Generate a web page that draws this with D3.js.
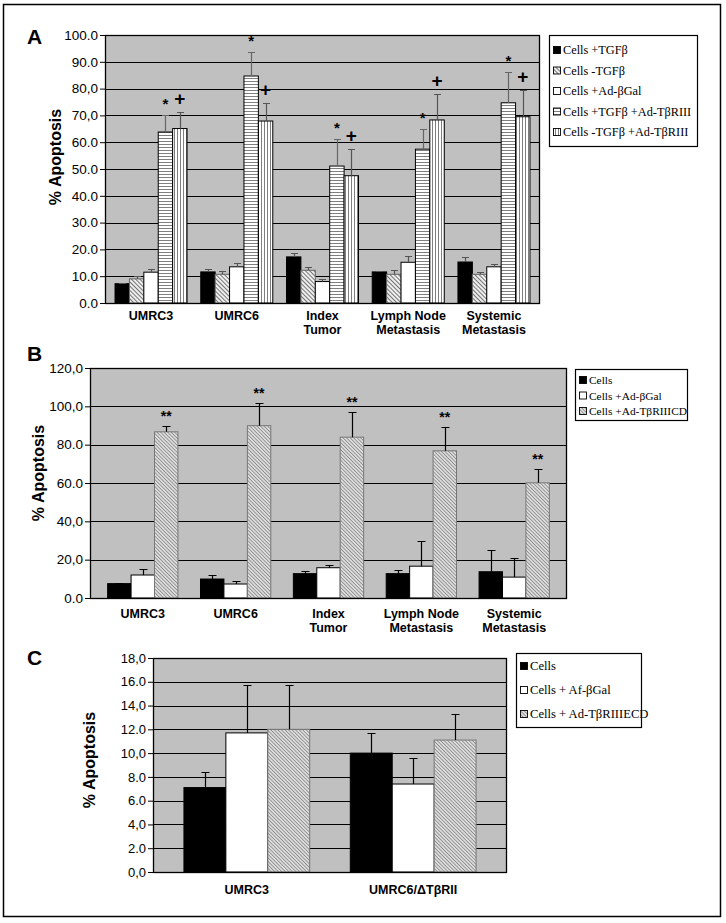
<!DOCTYPE html>
<html><head><meta charset="utf-8">
<script src="https://cdn.jsdelivr.net/npm/d3@7"></script>
<style>body{margin:0;background:#fff}</style>
</head><body>
<svg id="c" width="726" height="923" xmlns="http://www.w3.org/2000/svg"></svg>
<script>
// ---------- DATA ----------
// Panel A
const catsA = ["UMRC3", "UMRC6", "Index\nTumor", "Lymph Node\nMetastasis", "Systemic\nMetastasis"];
const seriesA = ["Cells +TGFβ", "Cells -TGFβ", "Cells +Ad-βGal", "Cells +TGFβ +Ad-TβRIII", "Cells -TGFβ +Ad-TβRIII"];
const a_tgf      = [7.2, 11.6, 17.2, 11.6, 15.3];
const a_tgf_err  = [0.3, 1.0, 1.4, 0.3, 2.0];
const a_notgf    = [9.0, 10.7, 12.2, 10.7, 10.7];
const a_notgf_err= [1.0, 1.2, 1.3, 1.6, 1.0];
const a_gal      = [11.5, 13.5, 8.0, 15.2, 13.5];
const a_gal_err  = [1.1, 1.3, 1.0, 2.2, 0.9];
const a_tgfR3    = [63.8, 84.7, 51.1, 57.4, 74.7];
const a_tgfR3_err= [6.2, 9.1, 10.0, 7.4, 11.6];
const a_noR3     = [65.1, 67.9, 47.5, 68.3, 69.5];
const a_noR3_err = [6.3, 6.9, 9.9, 9.5, 9.8];
const ticksA = [0, 10, 20, 30, 40, 50, 60, 70, 80, 90, 100];
const tickLabelsA = ["0.0", "10.0", "20.0", "30.0", "40.0", "50.0", "60.0", "70,0", "80,0", "90.0", "100.0"];

// Panel B
const catsB = ["UMRC3", "UMRC6", "Index\nTumor", "Lymph Node\nMetastasis", "Systemic\nMetastasis"];
const seriesB = ["Cells", "Cells +Ad-βGal", "Cells +Ad-TβRIIICD"];
const b_cells     = [7.5, 9.9, 12.7, 12.7, 13.7];
const b_cells_err = [0.5, 2.1, 1.3, 1.9, 11.4];
const b_gal       = [12.0, 7.3, 15.8, 16.6, 10.9];
const b_gal_err   = [2.9, 1.7, 1.4, 13.2, 9.9];
const b_cd        = [86.7, 89.9, 83.9, 76.8, 60.1];
const b_cd_err    = [3.2, 12.0, 13.3, 12.5, 7.3];
const ticksB = [0, 20, 40, 60, 80, 100, 120];
const tickLabelsB = ["0.0", "20,0", "40,0", "60.0", "80.0", "100,0", "120,0"];

// Panel C
const catsC = ["UMRC3", "UMRC6/ΔTβRII"];
const seriesC = ["Cells", "Cells + Af-βGal", "Cells + Ad-TβRIIIECD"];
const c_cells     = [7.1, 10.0];
const c_cells_err = [1.3, 1.7];
const c_gal       = [11.7, 7.4];
const c_gal_err   = [4.0, 2.2];
const c_ecd       = [12.0, 11.1];
const c_ecd_err   = [3.7, 2.2];
const ticksC = [0, 2, 4, 6, 8, 10, 12, 14, 16, 18];
const tickLabelsC = ["0,0", "2.0", "4,0", "6.0", "8.0", "10,0", "12.0", "14,0", "16.0", "18,0"];

// ---------- DRAWING ----------
const svg = d3.select("#c");
const SANS = "'Liberation Sans', Arial, sans-serif";
const SERIF = "'Liberation Serif', 'Times New Roman', serif";

svg.append("rect").attr("x", 3.5).attr("y", 4.5).attr("width", 717).attr("height", 912)
  .attr("fill", "#fff").attr("stroke", "#000").attr("stroke-width", 1.5);

const defs = svg.append("defs");
function linePattern(id, size, angle, color, sw, bg) {
  const p = defs.append("pattern").attr("id", id).attr("patternUnits", "userSpaceOnUse")
    .attr("width", size).attr("height", size).attr("patternTransform", `rotate(${angle})`);
  p.append("rect").attr("width", size).attr("height", size).attr("fill", bg);
  p.append("line").attr("x1", 0).attr("y1", 0).attr("x2", 0).attr("y2", size)
    .attr("stroke", color).attr("stroke-width", sw);
  return `url(#${id})`;
}
const hatchA = linePattern("hatchA", 3, -45, "#222", 1.2, "#eee");
const hatchBC = linePattern("hatchBC", 2.5, -45, "#444", 0.9, "#ddd");
const horiz = linePattern("horiz", 3, 90, "#000", 1, "#fff");
const vert = linePattern("vert", 3, 0, "#000", 1, "#fff");

function panel(o) {
  const g = svg.append("g");
  const x = d3.scaleBand().domain(o.cats).range([o.x0, o.x1]).paddingInner(o.pi).paddingOuter(o.po);
  const xs = d3.scaleBand().domain(d3.range(o.series.length)).range([0, x.bandwidth()]);
  const y = d3.scaleLinear().domain([0, o.max]).range([o.y1, o.y0]);

  g.append("rect").attr("x", o.x0).attr("y", o.y0).attr("width", o.x1 - o.x0).attr("height", o.y1 - o.y0)
    .attr("fill", "#c0c0c0");
  g.selectAll(".grid").data(o.ticks).join("line")
    .attr("x1", o.x0).attr("x2", o.x1).attr("y1", d => Math.round(y(d)) + 0.5).attr("y2", d => Math.round(y(d)) + 0.5)
    .attr("stroke", "#000").attr("stroke-width", 1);

  o.series.forEach((s, si) => {
    const bars = o.cats.map((c, ci) => ({ c, v: s.vals[ci], e: s.errs[ci] }));
    g.selectAll(null).data(bars).join("rect")
      .attr("x", d => x(d.c) + xs(si))
      .attr("y", d => y(d.v))
      .attr("width", xs.bandwidth())
      .attr("height", d => y(0) - y(d.v))
      .attr("fill", s.fill).attr("stroke", s.stroke).attr("stroke-width", 1);
    g.selectAll(null).data(bars).join("path")
      .attr("d", d => {
        const cx = Math.round(x(d.c) + xs(si) + xs.bandwidth() / 2) + 0.5;
        const yt = Math.round(y(d.v + d.e)) + 0.5;
        return `M${cx},${y(d.v)}V${yt}M${cx - o.cap},${yt}H${cx + o.cap}`;
      })
      .attr("fill", "none").attr("stroke", s.errColor).attr("stroke-width", 1.2);
    if (s.mark) {
      g.selectAll(null).data(bars).join("text")
        .attr("x", d => x(d.c) + xs(si) + xs.bandwidth() / 2)
        .attr("y", d => y(d.v + d.e) - s.markOff)
        .attr("text-anchor", "middle")
        .attr("font-family", SANS).attr("font-weight", "bold").attr("font-size", s.markSize)
        .text(s.mark);
    }
  });

  g.append("rect").attr("x", o.x0 + 0.5).attr("y", o.y0 + 0.5).attr("width", o.x1 - o.x0 - 1).attr("height", o.y1 - o.y0)
    .attr("fill", "none").attr("stroke", "#000").attr("stroke-width", 1.3);

  const ax = g.append("g").attr("transform", `translate(${o.x0},0)`)
    .call(d3.axisLeft(y).tickValues(o.ticks).tickFormat((d, i) => o.tickLabels[i]).tickSize(5).tickSizeOuter(0).tickPadding(2));
  ax.select(".domain").remove();
  ax.selectAll("text").attr("font-family", SANS).attr("font-size", o.tickFont).attr("fill", "#000");
  ax.selectAll("line").attr("stroke", "#000");

  o.cats.forEach(c => {
    const t = g.append("text").attr("x", x(c) + x.bandwidth() / 2).attr("y", o.labY)
      .attr("text-anchor", "middle").attr("font-family", SANS).attr("font-weight", "bold").attr("font-size", 12.5);
    c.split("\n").forEach((line, li) => t.append("tspan").attr("x", x(c) + x.bandwidth() / 2).attr("dy", li ? 13.5 : 0).text(line));
  });

  g.append("text").attr("transform", `translate(${o.titleX},${o.titleY}) rotate(-90)`)
    .attr("text-anchor", "middle").attr("dominant-baseline", "central")
    .attr("font-family", SANS).attr("font-weight", "bold").attr("font-size", 16).text("% Apoptosis");
  g.append("text").attr("x", 27).attr("y", o.letterY).attr("font-family", SANS).attr("font-weight", "bold")
    .attr("font-size", 21).text(o.letter);

  // legend
  const L = o.legend;
  g.append("rect").attr("x", L.x + 0.5).attr("y", L.y + 0.5).attr("width", L.w).attr("height", L.h)
    .attr("fill", "#fff").attr("stroke", "#000").attr("stroke-width", 1.2);
  o.series.forEach((s, si) => {
    const cy = L.y + L.first + L.gap * si;
    g.append("rect").attr("x", L.x + 4.5).attr("y", cy - 3.5).attr("width", 7).attr("height", 7)
      .attr("fill", s.fill).attr("stroke", "#000").attr("stroke-width", 0.9);
    g.append("text").attr("x", L.x + 14).attr("y", cy).attr("dominant-baseline", "central")
      .attr("font-family", SERIF).attr("font-size", L.font).text(s.name);
  });
}

panel({
  letter: "A", letterY: 44,
  cats: catsA, x0: 105, x1: 540, y0: 35, y1: 303, pi: 0.16, po: 0.117, max: 100,
  ticks: ticksA, tickLabels: tickLabelsA, tickFont: 13.5, cap: 3.5, labY: 320, titleX: 55, titleY: 157,
  series: [
    { name: seriesA[0], vals: a_tgf, errs: a_tgf_err, fill: "#000", stroke: "#000", errColor: "#555" },
    { name: seriesA[1], vals: a_notgf, errs: a_notgf_err, fill: hatchA, stroke: "#666", errColor: "#555" },
    { name: seriesA[2], vals: a_gal, errs: a_gal_err, fill: "#fff", stroke: "#000", errColor: "#555" },
    { name: seriesA[3], vals: a_tgfR3, errs: a_tgfR3_err, fill: horiz, stroke: "#000", errColor: "#666", mark: "*", markSize: 15, markOff: 6 },
    { name: seriesA[4], vals: a_noR3, errs: a_noR3_err, fill: vert, stroke: "#000", errColor: "#555", mark: "+", markSize: 19, markOff: 7 }
  ],
  legend: { x: 549, y: 35, w: 148, h: 111, first: 15, gap: 20.5, font: 12.3 }
});

panel({
  letter: "B", letterY: 361,
  cats: catsB, x0: 90, x1: 567, y0: 368, y1: 598, pi: 0.243, po: 0.19, max: 120,
  ticks: ticksB, tickLabels: tickLabelsB, tickFont: 13.5, cap: 4, labY: 618, titleX: 38, titleY: 473,
  series: [
    { name: seriesB[0], vals: b_cells, errs: b_cells_err, fill: "#000", stroke: "#000", errColor: "#000" },
    { name: seriesB[1], vals: b_gal, errs: b_gal_err, fill: "#fff", stroke: "#000", errColor: "#000" },
    { name: seriesB[2], vals: b_cd, errs: b_cd_err, fill: hatchBC, stroke: "#777", errColor: "#000", mark: "**", markSize: 14, markOff: 5 }
  ],
  legend: { x: 575, y: 369, w: 112, h: 51, first: 11, gap: 15.5, font: 11.4 }
});

panel({
  letter: "C", letterY: 665,
  cats: catsC, x0: 153, x1: 507, y0: 658, y1: 872, pi: 0.244, po: 0.186, max: 18,
  ticks: ticksC, tickLabels: tickLabelsC, tickFont: 13, cap: 4, labY: 894, titleX: 89, titleY: 760,
  series: [
    { name: seriesC[0], vals: c_cells, errs: c_cells_err, fill: "#000", stroke: "#000", errColor: "#000" },
    { name: seriesC[1], vals: c_gal, errs: c_gal_err, fill: "#fff", stroke: "#000", errColor: "#000" },
    { name: seriesC[2], vals: c_ecd, errs: c_ecd_err, fill: hatchBC, stroke: "#777", errColor: "#000" }
  ],
  legend: { x: 516, y: 653, w: 125, h: 74, first: 13, gap: 24, font: 12.6 }
});
</script>
</body></html>
